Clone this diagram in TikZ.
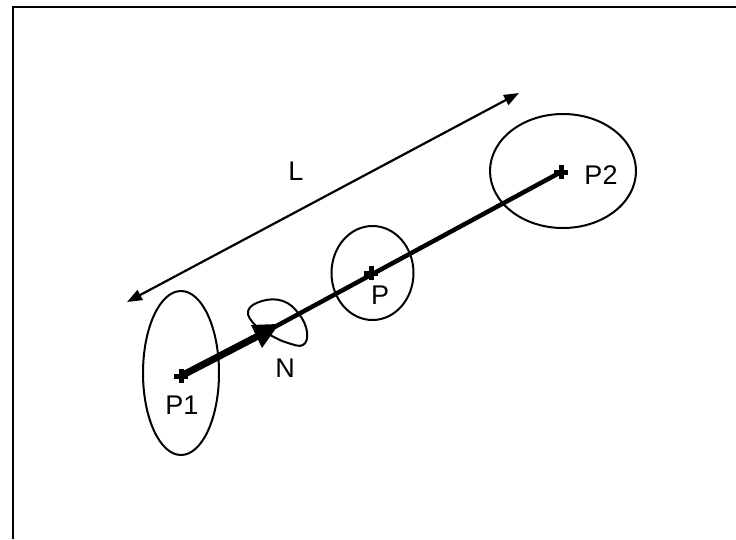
\documentclass[tikz,border=0pt]{standalone}
\usepackage{fontspec}
\setmainfont{Liberation Sans}
\usetikzlibrary{arrows.meta}
\begin{document}
\begin{tikzpicture}[x=1pt,y=-1pt,
  ring/.style={draw=black,line width=2pt},
  lbl/.style={font=\fontsize{27}{31}\selectfont,inner sep=0pt},
  crossmark/.style={line width=5pt},
  dim/.style={line width=2.2pt,{Triangle[length=15pt,width=11pt]}-{Triangle[length=15pt,width=11pt]}}]
\useasboundingbox (0,0) rectangle (736,539);
% frame (top and left edges visible)
\draw[line width=2.4pt] (13,539) -- (13,7) -- (736,7);
% points
\coordinate (p1) at (181,376);
\coordinate (p) at (371,273);
\coordinate (p2) at (561,172);
\coordinate (nb) at (258,336);
\coordinate (nt) at (279,324);
% ellipses
\draw[ring] (181,373) ellipse [x radius=38, y radius=82];
\draw[ring] (372.5,273) ellipse [x radius=41, y radius=47];
\draw[ring] (563,171) ellipse [x radius=73, y radius=57];
% N loop
\draw[ring] plot[smooth cycle,tension=0.7] coordinates {(248,311) (262,301) (283,301) (299,314) (307,332) (303,345) (288,343) (272,336) (256,326)};
% main line
\draw[line width=7pt] (p1) -- (nb);
\draw[line width=4.5pt] (nb) -- (p2);
\fill (nt) -- (251,325) -- (262,348) -- cycle;
% crosses
\foreach \c in {p1,p,p2}{
  \draw[crossmark] ([xshift=-7pt]\c) -- ([xshift=7pt]\c);
  \draw[crossmark] ([yshift=-7pt]\c) -- ([yshift=7pt]\c);
}
% dimension arrow
\coordinate (la) at (127,302);
\coordinate (lb) at (519,93);
\draw[dim] (la) -- (lb);
% labels
\node[lbl] (tL) at (296,171) {L};
\node[lbl] (tP1) at (182,405) {P1};
\node[lbl] (tN) at (285,368) {N};
\node[lbl] (tP) at (380,295) {P};
\node[lbl] (tP2) at (601,175) {P2};
\end{tikzpicture}
\end{document}
